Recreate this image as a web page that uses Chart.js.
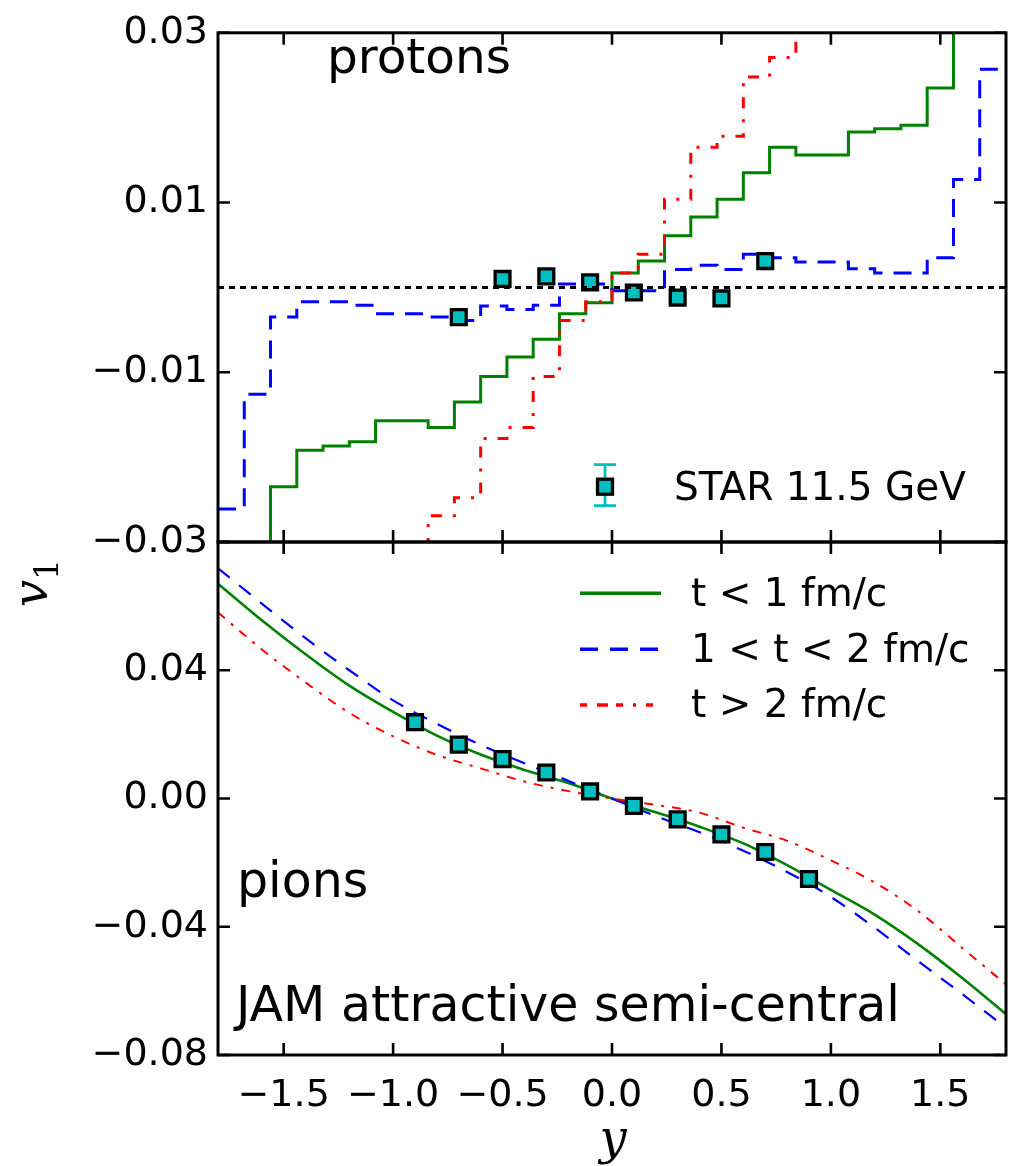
<!DOCTYPE html>
<html>
<head>
<meta charset="utf-8">
<script src="https://cdn.jsdelivr.net/npm/chart.js@4/dist/chart.umd.min.js"></script>
<style>
html, body { margin:0; padding:0; background:#fff; }
#wrap { position:relative; width:1013px; height:1166px; overflow:hidden; background:#fff; }
#wrap canvas { position:absolute; left:0; top:0; }
</style>
</head>
<body>
<div id="wrap">
<canvas id="cTop" width="1013" height="1166"></canvas>
<canvas id="cBot" width="1013" height="1166"></canvas>
</div>
<script>
// ---------------- data ----------------
const binEdges = [-1.8,-1.68,-1.56,-1.44,-1.32,-1.2,-1.08,-0.96,-0.84,-0.72,-0.6,-0.48,-0.36,-0.24,-0.12,0,
                  0.12,0.24,0.36,0.48,0.6,0.72,0.84,0.96,1.08,1.2,1.32,1.44,1.56,1.68,1.8];
// protons v1 per rapidity bin (values outside +-0.03 run off the panel)
const protonEarly = [-0.04,-0.04,-0.0235,-0.0192,-0.0187,-0.0182,-0.0157,-0.0157,-0.0165,-0.0135,-0.0105,-0.0082,-0.0061,-0.0031,-0.0018,
                     0.0017,0.0031,0.0061,0.0083,0.0104,0.0135,0.0165,0.0156,0.0156,0.0183,0.0187,0.0191,0.0235,0.04,0.04];
const protonMid   = [-0.0261,-0.0126,-0.0035,-0.0017,-0.0017,-0.0021,-0.0031,-0.0031,-0.0035,-0.0039,-0.0022,-0.0026,-0.0021,0.0004,0.0004,
                     -0.0004,-0.0004,0.0021,0.0026,0.0021,0.0039,0.0035,0.0030,0.0030,0.0022,0.0017,0.0017,0.0035,0.0127,0.0257];
const protonLate  = [-0.04,-0.04,-0.04,-0.04,-0.04,-0.04,-0.04,-0.04,-0.0269,-0.0248,-0.0178,-0.0165,-0.0105,-0.0039,-0.0017,
                     0.0017,0.0039,0.0104,0.0165,0.0178,0.0248,0.0271,0.04,0.04,0.04,0.04,0.04,0.04,0.04,0.04];
const protonStarY = [-0.7,-0.5,-0.3,-0.1,0.1,0.3,0.5,0.7];
const protonStarV = [-0.0035,0.0010,0.0013,0.0006,-0.0006,-0.0012,-0.0013,0.0031];
const zeroLineX = [-1.8, 1.8];
const zeroLineV = [0, 0];

const pionY     = [-1.8,-1.6,-1.4,-1.2,-1.0,-0.8,-0.6,-0.4,-0.2,0,0.2,0.4,0.6,0.8,1.0,1.2,1.4,1.6,1.8];
const pionEarly = [0.067,0.0556,0.045,0.0352,0.027,0.0196,0.0137,0.0089,0.0048,0,-0.0043,-0.0088,-0.014,-0.0208,-0.0285,-0.0362,-0.0455,-0.056,-0.0673];
const pionMid   = [0.0718,0.0608,0.050,0.040,0.0306,0.0233,0.0167,0.011,0.0055,0,-0.0055,-0.0105,-0.0163,-0.0229,-0.0307,-0.0403,-0.0508,-0.061,-0.0715];
const pionLate  = [0.058,0.0465,0.0362,0.0267,0.0194,0.0136,0.0094,0.0053,0.0023,0,-0.002,-0.0044,-0.0091,-0.0132,-0.0193,-0.0262,-0.0352,-0.0466,-0.058];
const pionStarY = [-0.9,-0.7,-0.5,-0.3,-0.1,0.1,0.3,0.5,0.7,0.9];
const pionStarV = [0.0238,0.0168,0.0123,0.0081,0.0022,-0.0023,-0.0065,-0.0112,-0.0167,-0.0251];

const xTickVals   = [-1.5,-1.0,-0.5,0,0.5,1.0,1.5];
const xTickLabels = ['\u22121.5','\u22121.0','\u22120.5','0.0','0.5','1.0','1.5'];
const protonTickVals   = [-0.03,-0.01,0.01,0.03];
const protonTickLabels = ['\u22120.03','\u22120.01','0.01','0.03'];
const pionTickVals   = [-0.08,-0.04,0,0.04];
const pionTickLabels = ['\u22120.08','\u22120.04','0.00','0.04'];
const pionTickMarks  = [-0.08,-0.04,0,0.04,0.08];

const seriesNames = ['t < 1 fm/c','1 < t < 2 fm/c','t > 2 fm/c'];
const starName = 'STAR 11.5 GeV';

// ---------------- styling ----------------
const GREEN = '#008000', BLUE = '#0000FF', RED = '#FF0000', CYAN = '#00BFBF';
const TICK_FONT = {family:'DejaVu Sans', size:38};
const SANS = '"DejaVu Sans"';

function pts(xs, ys){ return xs.map((x,i)=>({x:x, y:ys[i]})); }
function stepPts(edges, vals){
  const p = vals.map((v,i)=>({x:edges[i], y:v}));
  p.push({x:edges[edges.length-1], y:vals[vals.length-1]});
  return p;
}

function framePlugin(yMarks, extra){
  return {
    id:'frame',
    afterDraw(chart){
      const ctx = chart.ctx, a = chart.chartArea, x = chart.scales.x, y = chart.scales.y;
      ctx.save();
      ctx.strokeStyle = '#000';
      ctx.lineWidth = 3;
      ctx.strokeRect(a.left, a.top, a.right-a.left, a.bottom-a.top);
      ctx.lineWidth = 2.6;
      const L = 12;
      ctx.beginPath();
      xTickVals.forEach(v=>{
        const px = x.getPixelForValue(v);
        ctx.moveTo(px, a.bottom); ctx.lineTo(px, a.bottom-L);
        ctx.moveTo(px, a.top); ctx.lineTo(px, a.top+L);
      });
      yMarks.forEach(v=>{
        const py = y.getPixelForValue(v);
        ctx.moveTo(a.left, py); ctx.lineTo(a.left+L, py);
        ctx.moveTo(a.right, py); ctx.lineTo(a.right-L, py);
      });
      ctx.stroke();
      ctx.restore();
      if (extra) { ctx.save(); extra(chart); ctx.restore(); }
    }
  };
}

function yAxis(min, max, vals, labels){
  return {
    type:'linear', min:min, max:max,
    afterFit(s){ s.width = 218; },
    afterBuildTicks(s){ s.ticks = vals.map(v=>({value:v})); },
    grid:{display:false, drawTicks:false, tickLength:0},
    border:{display:false},
    ticks:{ font:TICK_FONT, color:'#000', padding:10,
      callback:(v)=>{ const i = vals.indexOf(v); return i>=0 ? labels[i] : ''; } }
  };
}

// ---------------- top panel: protons ----------------
new Chart(document.getElementById('cTop'), {
  type:'line',
  data:{ datasets:[
    { label:'zero', data:pts(zeroLineX, zeroLineV), borderColor:'#000', borderWidth:3, borderDash:[6,5], pointRadius:0, order:0 },
    { label:starName, data:pts(protonStarY, protonStarV), showLine:false, pointStyle:'rect', pointRadius:10.5,
      backgroundColor:CYAN, borderColor:'#000', borderWidth:3.3, order:1 },
    { label:seriesNames[2], data:stepPts(binEdges, protonLate), stepped:'before', borderColor:RED, borderWidth:3,
      borderDash:[11,11,3,11], pointRadius:0, order:2 },
    { label:seriesNames[1], data:stepPts(binEdges, protonMid), stepped:'before', borderColor:BLUE, borderWidth:3,
      borderDash:[18,11], pointRadius:0, order:3 },
    { label:seriesNames[0], data:stepPts(binEdges, protonEarly), stepped:'before', borderColor:GREEN, borderWidth:3,
      pointRadius:0, order:4 }
  ]},
  options:{
    responsive:false, animation:false, devicePixelRatio:1,
    layout:{ autoPadding:false, padding:{left:0, right:7, top:31, bottom:624} },
    plugins:{ legend:{display:false}, tooltip:{enabled:false} },
    scales:{
      x:{ type:'linear', min:-1.8, max:1.8, display:false },
      y: yAxis(-0.03, 0.03, protonTickVals, protonTickLabels)
    }
  },
  plugins:[ framePlugin(protonTickVals, (chart)=>{
    const ctx = chart.ctx;
    ctx.fillStyle = '#000';
    ctx.textBaseline = 'alphabetic';
    ctx.textAlign = 'left';
    ctx.font = '48.5px ' + SANS;
    ctx.fillText('protons', 327, 73);
    // STAR legend entry (error-bar handle)
    const hx = 605, hy = 486.7;
    ctx.strokeStyle = CYAN; ctx.lineWidth = 2.8;
    ctx.beginPath();
    ctx.moveTo(hx, hy-22); ctx.lineTo(hx, hy+19);
    ctx.moveTo(hx-11, hy-22); ctx.lineTo(hx+11, hy-22);
    ctx.moveTo(hx-11, hy+19); ctx.lineTo(hx+11, hy+19);
    ctx.stroke();
    ctx.fillStyle = CYAN; ctx.fillRect(hx-7.5, hy-7.5, 15, 15);
    ctx.strokeStyle = '#000'; ctx.lineWidth = 3.3; ctx.strokeRect(hx-7.5, hy-7.5, 15, 15);
    ctx.fillStyle = '#000';
    ctx.font = '39px ' + SANS;
    ctx.fillText(starName, 674, 500);
    // y-axis title v_1
    ctx.save();
    ctx.translate(47, 607);
    ctx.rotate(-Math.PI/2);
    ctx.font = 'italic 48px "DejaVu Serif"';
    ctx.fillText('v', 0, 0);
    ctx.font = '33px "DejaVu Serif"';
    ctx.fillText('1', 27, 11);
    ctx.restore();
  }) ]
});

// ---------------- bottom panel: pions ----------------
new Chart(document.getElementById('cBot'), {
  type:'line',
  data:{ datasets:[
    { label:starName, data:pts(pionStarY, pionStarV), showLine:false, pointStyle:'rect', pointRadius:10.5,
      backgroundColor:CYAN, borderColor:'#000', borderWidth:3.3, order:0 },
    { label:seriesNames[2], data:pts(pionY, pionLate), borderColor:RED, borderWidth:2, borderDash:[9,8,3,8],
      pointRadius:0, cubicInterpolationMode:'monotone', order:1 },
    { label:seriesNames[1], data:pts(pionY, pionMid), borderColor:BLUE, borderWidth:2.2, borderDash:[15,12],
      pointRadius:0, cubicInterpolationMode:'monotone', order:2 },
    { label:seriesNames[0], data:pts(pionY, pionEarly), borderColor:GREEN, borderWidth:2.6,
      pointRadius:0, cubicInterpolationMode:'monotone', order:3 }
  ]},
  options:{
    responsive:false, animation:false, devicePixelRatio:1,
    layout:{ autoPadding:false, padding:{left:0, right:7, top:542, bottom:0} },
    plugins:{ legend:{display:false}, tooltip:{enabled:false} },
    scales:{
      x:{ type:'linear', min:-1.8, max:1.8,
        afterFit(s){ s.height = 111; },
        afterBuildTicks(s){ s.ticks = xTickVals.map(v=>({value:v})); },
        grid:{display:false, drawTicks:false, tickLength:0},
        border:{display:false},
        ticks:{ font:TICK_FONT, color:'#000', padding:18, maxRotation:0, autoSkip:false,
          callback:(v)=>{ const i = xTickVals.indexOf(v); return i>=0 ? xTickLabels[i] : ''; } }
      },
      y: yAxis(-0.08, 0.08, pionTickVals, pionTickLabels)
    }
  },
  plugins:[ framePlugin(pionTickMarks, (chart)=>{
    const ctx = chart.ctx;
    ctx.fillStyle = '#000';
    ctx.textBaseline = 'alphabetic';
    ctx.textAlign = 'left';
    // legend
    const styles = [
      {c:GREEN, d:[], y:593.3},
      {c:BLUE, d:[18,12], y:649.3},
      {c:RED, d:[7,10,11,8,7,10,3,10], y:705}
    ];
    styles.forEach((s,i)=>{
      ctx.strokeStyle = s.c; ctx.lineWidth = 3.6; ctx.setLineDash(s.d);
      ctx.beginPath(); ctx.moveTo(580, s.y); ctx.lineTo(661, s.y); ctx.stroke();
      ctx.setLineDash([]);
      ctx.font = '39px ' + SANS;
      ctx.fillText(seriesNames[i], 691, s.y + 12.4);
    });
    ctx.font = '49px ' + SANS;
    ctx.fillText('pions', 237, 897);
    ctx.fillText('JAM attractive semi-central', 236, 1021);
    // x-axis title
    ctx.textAlign = 'center';
    ctx.font = 'italic 48px "DejaVu Serif"';
    ctx.fillText('y', 613, 1154);
  }) ]
});
</script>
</body>
</html>
